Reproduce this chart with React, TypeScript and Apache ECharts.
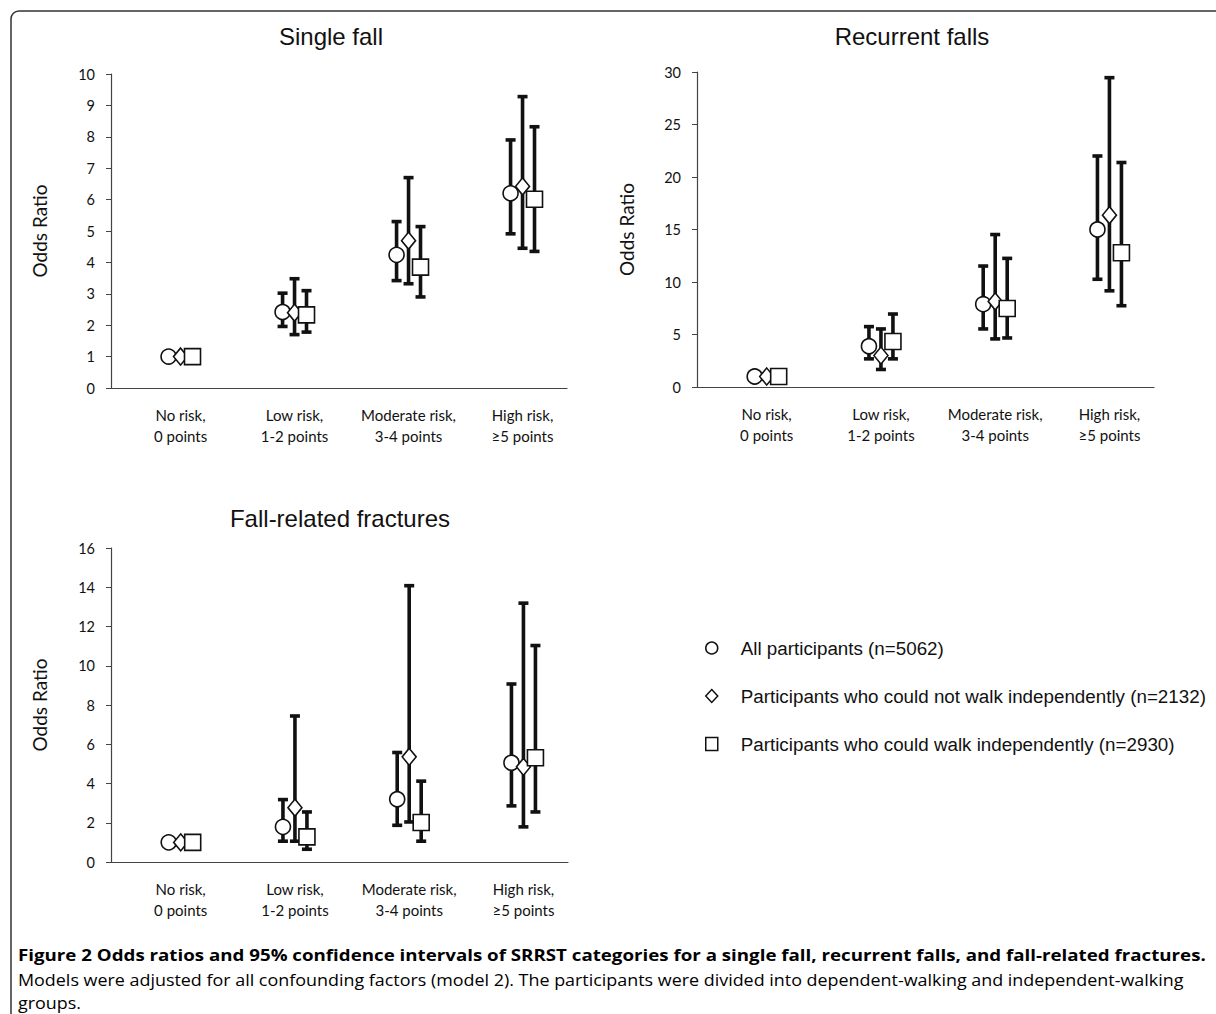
import React, { useEffect, useRef } from "react";
import * as echarts from "echarts";

// ---------- data ----------
const categories = [
  "No risk,\n0 points",
  "Low risk,\n1-2 points",
  "Moderate risk,\n3-4 points",
  "High risk,\n≥5 points",
];
const groupNames = [
  "All participants (n=5062)",
  "Participants who could not walk independently (n=2132)",
  "Participants who could walk independently (n=2930)",
];
const panelTitles = ["Single fall", "Recurrent falls", "Fall-related fractures"];

// Single fall
const singleAllOR = [1, 2.42, 4.24, 6.2];
const singleAllLo = [null, 1.96, 3.42, 4.91];
const singleAllHi = [null, 3.02, 5.3, 7.9];
const singleNotWalkOR = [1, 2.4, 4.69, 6.42];
const singleNotWalkLo = [null, 1.7, 3.32, 4.45];
const singleNotWalkHi = [null, 3.48, 6.7, 9.28];
const singleWalkOR = [1, 2.33, 3.85, 6.01];
const singleWalkLo = [null, 1.78, 2.9, 4.35];
const singleWalkHi = [null, 3.1, 5.14, 8.32];

// Recurrent falls
const recurAllOR = [1, 3.88, 7.89, 15.0];
const recurAllLo = [null, 2.68, 5.53, 10.26];
const recurAllHi = [null, 5.75, 11.52, 22.0];
const recurNotWalkOR = [1, 3.0, 8.15, 16.36];
const recurNotWalkLo = [null, 1.67, 4.58, 9.16];
const recurNotWalkHi = [null, 5.53, 14.52, 29.46];
const recurWalkOR = [1, 4.33, 7.48, 12.79];
const recurWalkLo = [null, 2.68, 4.67, 7.74];
const recurWalkHi = [null, 6.95, 12.25, 21.38];

// Fall-related fractures
const fracAllOR = [1, 1.79, 3.2, 5.06];
const fracAllLo = [null, 1.06, 1.87, 2.86];
const fracAllHi = [null, 3.18, 5.58, 9.07];
const fracNotWalkOR = [1, 2.77, 5.36, 4.85];
const fracNotWalkLo = [null, 1.06, 2.04, 1.79];
const fracNotWalkHi = [null, 7.44, 14.08, 13.19];
const fracWalkOR = [1, 1.28, 2.01, 5.31];
const fracWalkLo = [null, 0.65, 1.06, 2.55];
const fracWalkHi = [null, 2.55, 4.12, 11.03];

// y-axis scales
const yMax = [10, 30, 16];
const yStep = [1, 5, 2];

const captionBold =
  "Figure 2 Odds ratios and 95% confidence intervals of SRRST categories for a single fall, recurrent falls, and fall-related fractures.";
const captionLine2 =
  "Models were adjusted for all confounding factors (model 2). The participants were divided into dependent-walking and independent-walking";
const captionLine3 = "groups.";

// ---------- layout / style ----------
const panels = [
  {
    title: { x: 331, y: 36 },
    grid: { left: 111, top: 74, width: 456, height: 314 },
    nameGap: 62,
    or: [singleAllOR, singleNotWalkOR, singleWalkOR],
    lo: [singleAllLo, singleNotWalkLo, singleWalkLo],
    hi: [singleAllHi, singleNotWalkHi, singleWalkHi],
  },
  {
    title: { x: 912, y: 36 },
    grid: { left: 697, top: 72, width: 457, height: 315 },
    nameGap: 61,
    or: [recurAllOR, recurNotWalkOR, recurWalkOR],
    lo: [recurAllLo, recurNotWalkLo, recurWalkLo],
    hi: [recurAllHi, recurNotWalkHi, recurWalkHi],
  },
  {
    title: { x: 340, y: 518 },
    grid: { left: 111, top: 548, width: 457, height: 314 },
    nameGap: 62,
    or: [fracAllOR, fracNotWalkOR, fracWalkOR],
    lo: [fracAllLo, fracNotWalkLo, fracWalkLo],
    hi: [fracAllHi, fracNotWalkHi, fracWalkHi],
  },
];
const dodge = [-0.105, 0, 0.105];
const symbols = ["circle", "diamond", "rect"];
const symbolSizes: any[] = [15, [14, 17], 16];
const CAL = "Lato, 'Open Sans', sans-serif";
const ARIAL = "'Liberation Sans', Arial, sans-serif";
const CAP = "'Open Sans', sans-serif";

function buildOption() {
  const grids: any[] = [];
  const xAxes: any[] = [];
  const yAxes: any[] = [];
  const series: any[] = [];
  const graphics: any[] = [];

  panels.forEach((p, pi) => {
    grids.push({ ...p.grid, containLabel: false, outerBoundsMode: "none" });
    xAxes.push({
      type: "value",
      gridIndex: pi,
      min: -0.61,
      max: 3.39,
      splitLine: { show: false },
      axisLine: { show: true, onZero: false, lineStyle: { color: "#444", width: 1.2 } },
      axisTick: { show: false },
      axisLabel: {
        customValues: [0, 1, 2, 3],
        formatter: (v: number) => categories[Math.round(v)] ?? "",
        fontFamily: CAL,
        fontSize: 15,
        lineHeight: 21,
        color: "#111",
        margin: 16,
      },
    });
    yAxes.push({
      type: "value",
      gridIndex: pi,
      min: 0,
      max: yMax[pi],
      interval: yStep[pi],
      name: "Odds Ratio",
      nameLocation: "middle",
      nameGap: p.nameGap,
      nameRotate: 90,
      nameTextStyle: { fontFamily: CAL, fontSize: 19, color: "#111" },
      splitLine: { show: false },
      axisLine: { show: true, onZero: false, lineStyle: { color: "#444", width: 1.2 } },
      axisTick: { show: true, inside: false, length: 5, lineStyle: { color: "#444" } },
      axisLabel: { fontFamily: CAL, fontSize: 14.5, color: "#111", margin: 16 },
    });

    for (let g = 0; g < 3; g++) {
      const bars: any[] = [];
      const pts: any[] = [];
      for (let c = 0; c < categories.length; c++) {
        const x = c + dodge[g];
        pts.push([x, p.or[g][c]]);
        if (p.lo[g][c] != null && p.hi[g][c] != null) {
          bars.push([x, p.lo[g][c], p.hi[g][c]]);
        }
      }
      series.push({
        type: "custom",
        xAxisIndex: pi,
        yAxisIndex: pi,
        z: 2,
        silent: true,
        encode: { x: 0, y: [1, 2] },
        data: bars,
        renderItem: (_params: any, api: any) => {
          const x = api.value(0);
          const a = api.coord([x, api.value(1)]);
          const b = api.coord([x, api.value(2)]);
          const w = 5;
          const st = { stroke: "#111", lineWidth: 3.6 };
          return {
            type: "group",
            children: [
              { type: "line", shape: { x1: a[0], y1: a[1], x2: b[0], y2: b[1] }, style: st },
              { type: "line", shape: { x1: a[0] - w, y1: a[1], x2: a[0] + w, y2: a[1] }, style: st },
              { type: "line", shape: { x1: b[0] - w, y1: b[1], x2: b[0] + w, y2: b[1] }, style: st },
            ],
          };
        },
      });
      series.push({
        type: "scatter",
        name: groupNames[g],
        xAxisIndex: pi,
        yAxisIndex: pi,
        z: 5,
        symbol: symbols[g],
        symbolSize: symbolSizes[g],
        itemStyle: { color: "#fff", borderColor: "#111", borderWidth: 1.6, opacity: 1 },
        data: pts,
      });
    }

    graphics.push({
      type: "text",
      style: {
        x: p.title.x,
        y: p.title.y,
        text: panelTitles[pi],
        font: `24px ${ARIAL}`,
        fill: "#111",
        textAlign: "center",
        textVerticalAlign: "middle",
      },
    });
  });

  graphics.push({
    type: "rect",
    shape: { x: 11, y: 11, width: 1230, height: 1030, r: 8 },
    style: { fill: "none", stroke: "#333", lineWidth: 1.5 },
    silent: true,
  });
  graphics.push({
    type: "text",
    x: 18,
    y: 955,
    scaleX: 1.17,
    style: { x: 0, y: 0, text: captionBold, font: `bold 16px ${CAP}`, fill: "#000", textVerticalAlign: "middle" },
  });
  graphics.push({
    type: "text",
    x: 18,
    y: 980,
    scaleX: 1.12,
    style: { x: 0, y: 0, text: captionLine2, font: `16px ${CAP}`, fill: "#000", textVerticalAlign: "middle" },
  });
  graphics.push({
    type: "text",
    x: 18,
    y: 1003,
    scaleX: 1.12,
    style: { x: 0, y: 0, text: captionLine3, font: `16px ${CAP}`, fill: "#000", textVerticalAlign: "middle" },
  });

  return {
    animation: false,
    backgroundColor: "#fff",
    grid: grids,
    xAxis: xAxes,
    yAxis: yAxes,
    series,
    graphic: graphics,
    legend: {
      orient: "vertical",
      left: 700,
      top: 633,
      itemWidth: 12,
      itemHeight: 13,
      itemGap: 28,
      data: groupNames.map((n, i) => ({ name: n, icon: symbols[i] })),
      itemStyle: { color: "#fff", borderColor: "#111", borderWidth: 1.5 },
      textStyle: { fontFamily: ARIAL, fontSize: 18.8, color: "#111", lineHeight: 20, padding: [0, 0, 0, 18] },
      selectedMode: false,
    },
  };
}

export default function App() {
  const ref = useRef<HTMLDivElement>(null);
  useEffect(() => {
    if (!ref.current) return;
    const chart = echarts.init(ref.current, undefined, { renderer: "svg" });
    chart.setOption(buildOption() as any);
    return () => chart.dispose();
  }, []);
  return (
    <div
      ref={ref}
      style={{ position: "absolute", left: 0, top: 0, width: 1216, height: 1014, background: "#fff" }}
    />
  );
}
